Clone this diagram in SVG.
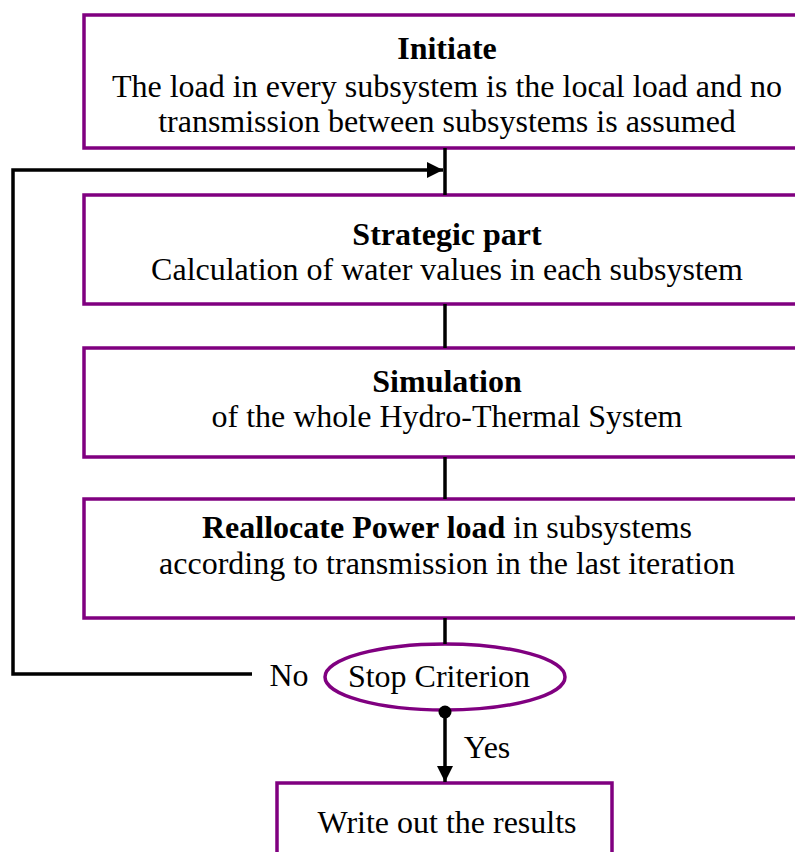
<svg xmlns="http://www.w3.org/2000/svg" width="795" height="852" viewBox="0 0 795 852">
<style>
.box{fill:#fff;stroke:#800080;stroke-width:3.5}
.t{font-family:"Liberation Serif","Times New Roman",serif;font-size:32px;fill:#000;text-anchor:middle}
.b{font-weight:bold}
.c{fill:none;stroke:#000;stroke-width:3.5}
</style>
<defs>
<marker id="ah2" markerWidth="16" markerHeight="16" refX="16" refY="8" orient="auto" markerUnits="userSpaceOnUse" viewBox="0 0 16 16">
<path d="M0,0 L16,8 L0,16 Z" fill="#000"/>
</marker>
</defs>
<rect width="795" height="852" fill="#fff"/>
<g id="initiate">
<rect class="box" x="84" y="15" width="720" height="133"/>
<text class="t b" x="447" y="59">Initiate</text>
<text class="t" x="447" y="97">The load in every subsystem is the local load and no</text>
<text class="t" x="447" y="132">transmission between subsystems is assumed</text>
</g>
<g id="strategic">
<rect class="box" x="84" y="195" width="720" height="109"/>
<text class="t b" x="447" y="245">Strategic part</text>
<text class="t" x="447" y="280">Calculation of water values in each subsystem</text>
</g>
<g id="simulation">
<rect class="box" x="84" y="348" width="720" height="109"/>
<text class="t b" x="447" y="392">Simulation</text>
<text class="t" x="447" y="427">of the whole Hydro-Thermal System</text>
</g>
<g id="reallocate">
<rect class="box" x="84" y="499" width="720" height="119"/>
<text class="t" x="447" y="538"><tspan class="b">Reallocate Power load</tspan> in subsystems</text>
<text class="t" x="447" y="574">according to transmission in the last iteration</text>
</g>
<g id="stop">
<ellipse cx="445" cy="677" rx="120" ry="33" fill="#fff" stroke="#800080" stroke-width="3.5"/>
<text class="t" x="439" y="687">Stop Criterion</text>
</g>
<g id="write">
<rect class="box" x="277" y="783" width="335" height="90"/>
<text class="t" x="447" y="833">Write out the results</text>
</g>
<g id="connectors">
<line class="c" x1="445" y1="148" x2="445" y2="195"/>
<line class="c" x1="445" y1="304" x2="445" y2="348"/>
<line class="c" x1="445" y1="457" x2="445" y2="499"/>
<line class="c" x1="445" y1="618" x2="445" y2="644"/>
<polyline class="c" points="252,674 13,674 13,170 443,170" marker-end="url(#ah2)"/>
<line class="c" x1="445" y1="712" x2="445" y2="782" marker-end="url(#ah2)"/>
<circle cx="445" cy="712" r="6.5" fill="#000"/>
<text class="t" x="289" y="686">No</text>
<text class="t" x="487" y="758">Yes</text>
</g>
</svg>
